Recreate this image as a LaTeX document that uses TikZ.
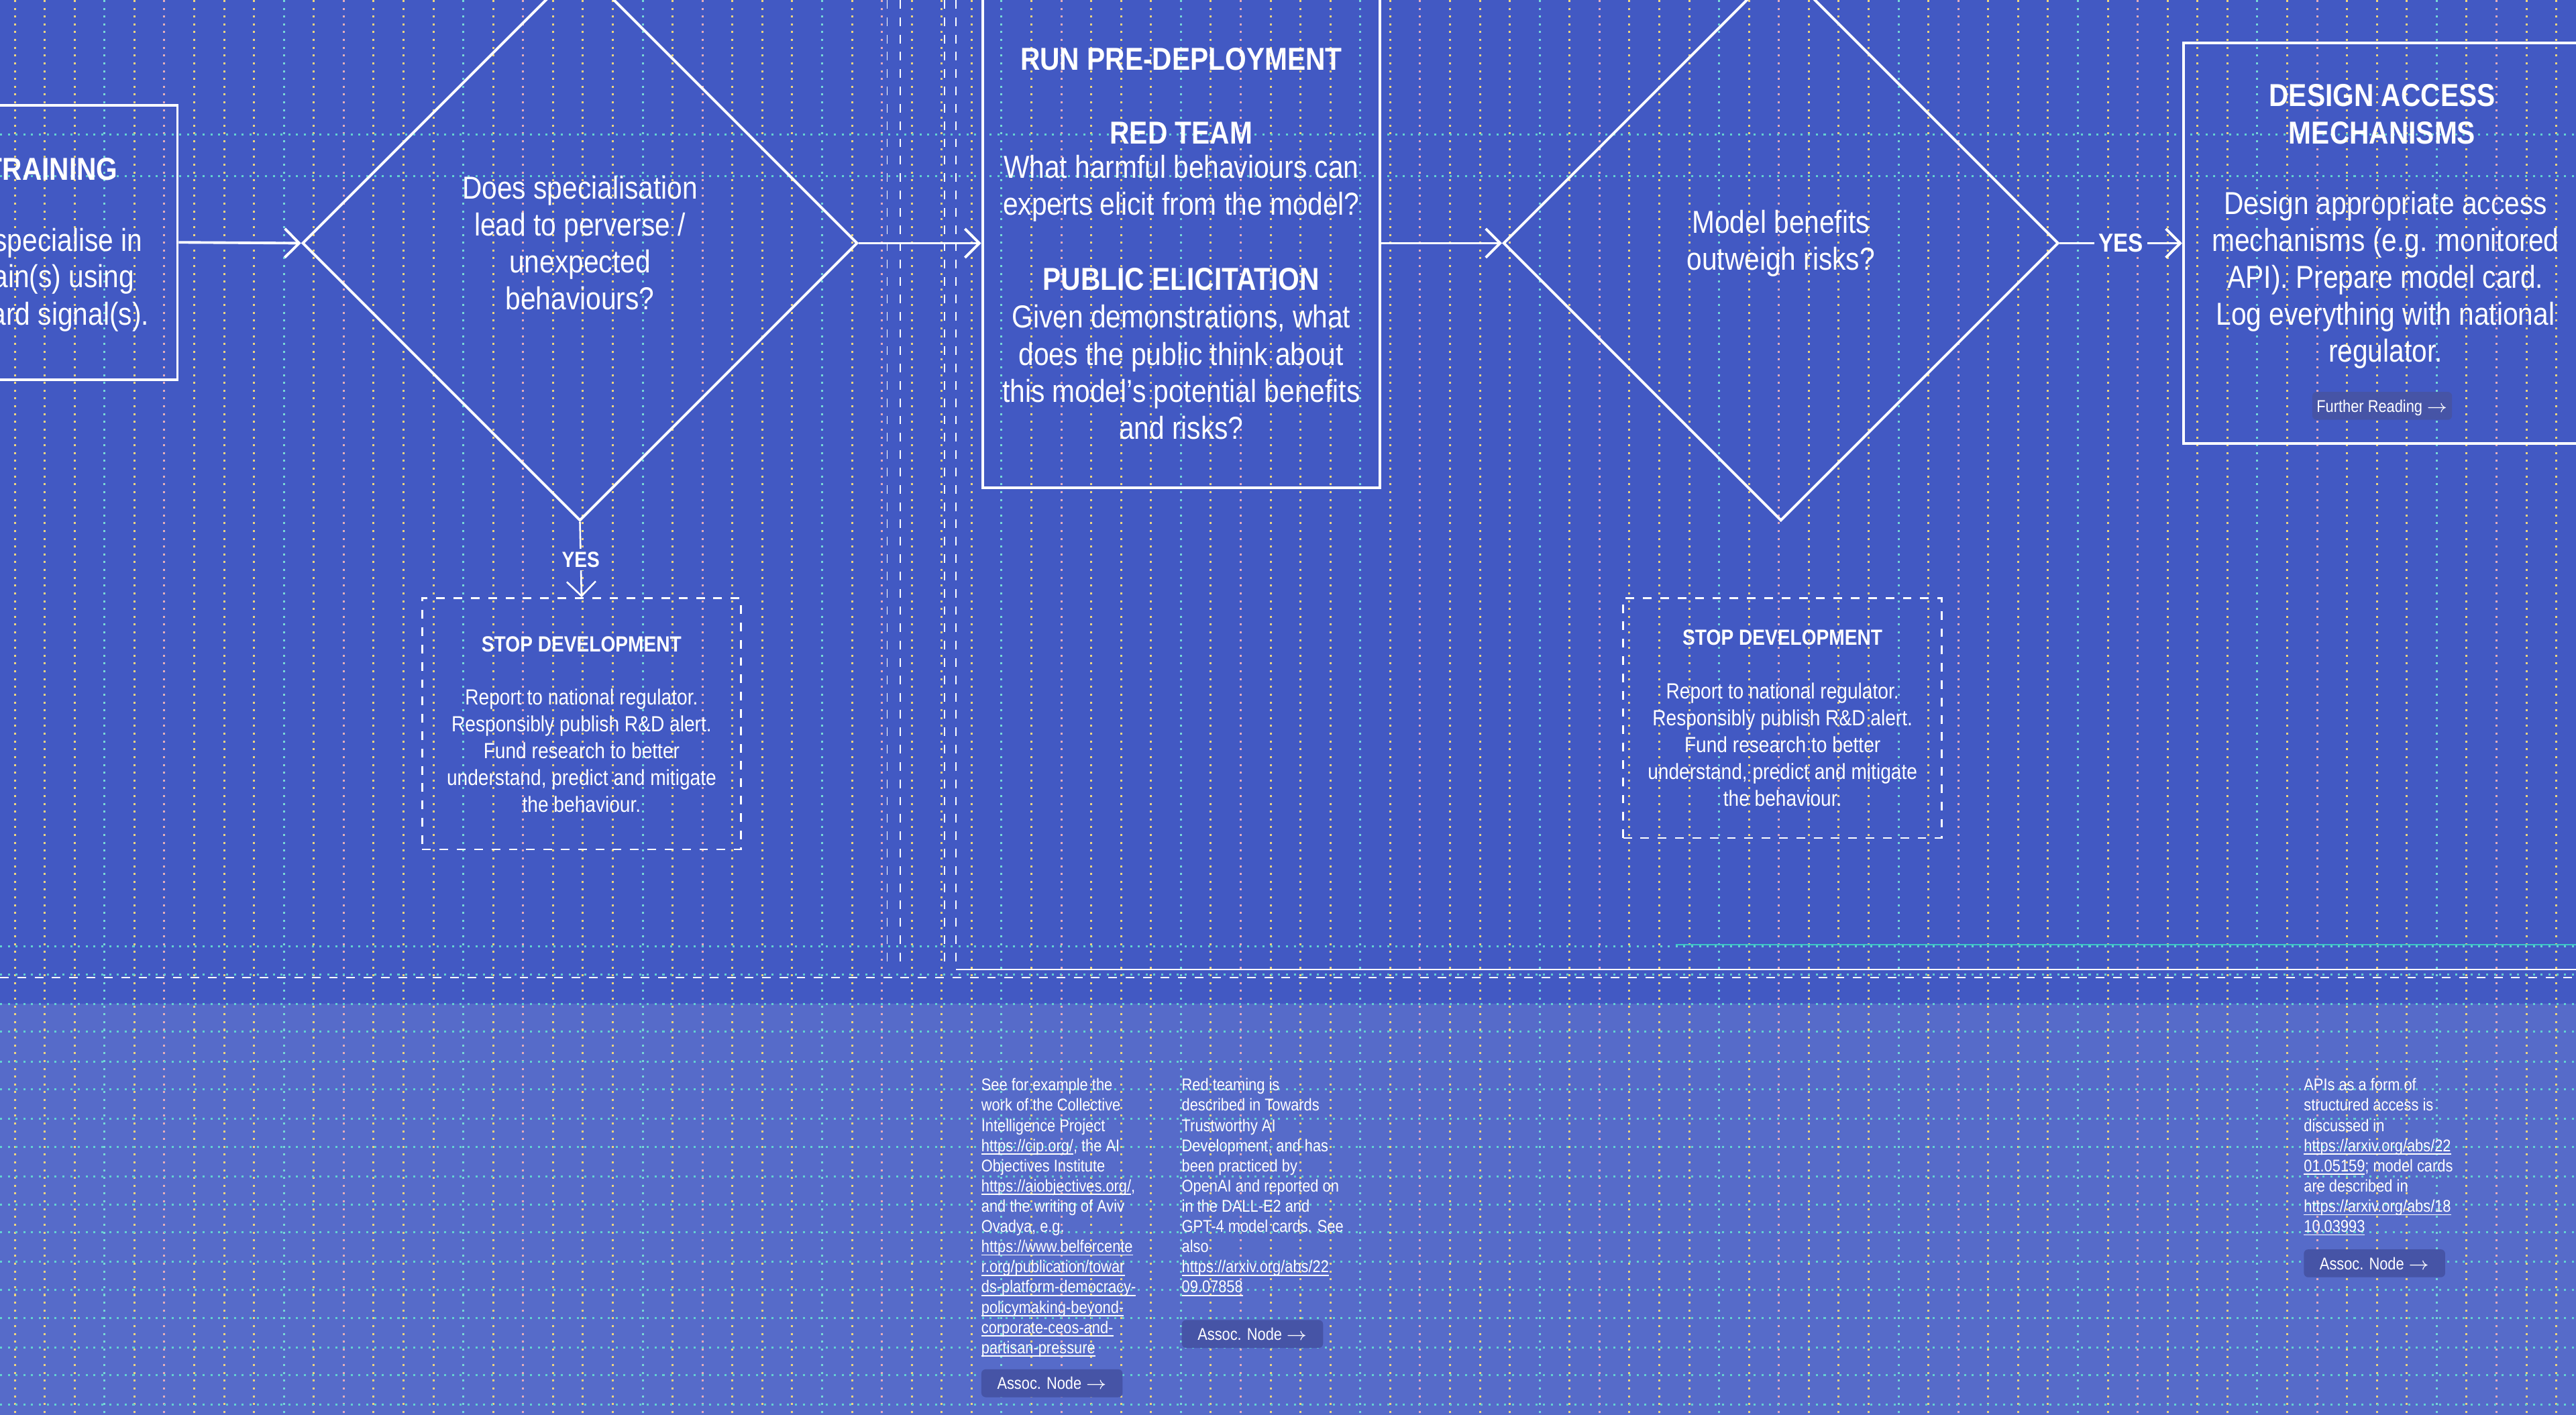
\documentclass[tikz,border=0pt]{standalone}
\usepackage{fontspec}
\setmainfont{Liberation Sans}[FakeStretch=0.86]
\usetikzlibrary{positioning,shapes.geometric,arrows.meta}
\definecolor{bgblue}{HTML}{4259C3}
\definecolor{bandblue}{HTML}{566BC9}
\definecolor{gridyellow}{HTML}{E5C24A}
\definecolor{gridteal}{HTML}{3CC6C6}
\definecolor{gridpink}{HTML}{D98C9C}
\definecolor{btnblue}{HTML}{4654A6}
\newcommand\ulink[1]{\setbox0\hbox{#1}\rlap{\vrule width\wd0 height -0.7pt depth 1.1pt}\box0}
\tikzset{
  flowbox/.style={draw=white, line width=0.9pt, rectangle, inner sep=0pt},
  stopbox/.style={draw=white, line width=0.6pt, dashed, rectangle, inner sep=0pt},
  decision/.style={draw=white, line width=0.9pt, diamond, shape aspect=1, inner sep=0pt,
    minimum width=6.76cm, minimum height=6.76cm},
  flowarrow/.style={draw=white, line width=0.9pt, -{Straight Barb[length=5pt,width=10pt]}},
  bodytext/.style={text=white, align=center, font=\fontsize{11}{12.8}\selectfont, inner sep=0pt},
  titletext/.style={bodytext, font=\fontsize{11}{12.8}\selectfont\bfseries},
  stoptext/.style={text=white, align=center, font=\fontsize{7.6}{9.3}\selectfont, inner sep=0pt},
  notetext/.style={text=white, align=left, anchor=north west, font=\fontsize{5.9}{7}\selectfont, inner sep=0pt},
  assocbtn/.style={fill=btnblue, rounded corners=1.5pt, text=white, anchor=north west,
    font=\fontsize{5.9}{7}\selectfont, minimum width=1.72cm, minimum height=0.34cm, inner sep=1.5pt, text depth=0pt},
  gridline/.style={dotted, line width=0.7pt}
}
\begin{document}
\begin{tikzpicture}[x=0.02cm, y=-0.02cm]
  \useasboundingbox (0,0) rectangle (1568,861);
  \clip (0,0) rectangle (1568,861);
  % background and lower band
  \fill[bgblue] (0,0) rectangle (1568,861);
  \fill[bandblue] (0,611) rectangle (1568,861);

  % dotted guide grid
  \foreach \i in {0,...,86} {
    \pgfmathsetmacro{\gx}{9+18.2*\i}
    \pgfmathtruncatemacro{\gk}{mod(\i,6)}
    \ifnum\gk=3 \def\gc{gridteal}\else\ifnum\gk=5 \def\gc{gridpink}\else\def\gc{gridyellow}\fi\fi
    \draw[gridline, \gc!70] (\gx,0) -- (\gx,861);
  }
  \foreach \gy in {82,107,576,593,611,628,646,663,681,698,716,733,750,768,785,802,820,837,855}
    \draw[gridline, gridteal!80] (0,\gy) -- (1568,\gy);

  % section separators
  \draw[white, line width=0.5pt, dashed] (0,595) -- (1568,595);
  \draw[white!80, line width=0.4pt] (582,590) -- (1568,590);
  \draw[gridteal, line width=0.6pt] (1020,575) -- (1568,575);
  \foreach \sx in {540,548,575,582}
    \draw[white!85, line width=0.4pt, dashed] (\sx,0) -- (\sx,590);

  % flow
  \node[flowbox, minimum width=4.16cm, minimum height=3.34cm] (train) at (4,147.5) {};
  \node[titletext, anchor=east] (trainT) at (72,103) {TRAINING};
  \node[bodytext, anchor=east] (trainA) at (87,148) {specialise in};
  \node[bodytext, anchor=east] (trainB) at (82,170) {ain(s) using};
  \node[bodytext, anchor=east] (trainC) at (91,193) {ard signal(s).};

  \node[decision] (perverse) at (353,148) {};
  \node[bodytext] (perverseT) at (353,148) {Does specialisation\\lead to perverse /\\unexpected\\behaviours?};

  \node[flowbox, minimum width=4.84cm, minimum height=5.96cm] (redteam) at (719,148) {};
  \node[titletext] (redteamT) at (719,36) {RUN PRE-DEPLOYMENT};
  \node[titletext] (redteamR) at (719,81) {RED TEAM};
  \node[bodytext] (redteamA) at (719,114.5) {What harmful behaviours can\\experts elicit from the model?};
  \node[titletext] (redteamP) at (719,170) {PUBLIC ELICITATION};
  \node[bodytext] (redteamB) at (719,226.5) {Given demonstrations, what\\does the public think about\\this model's potential benefits\\and risks?};

  \node[decision] (benefits) at (1084,148) {};
  \node[bodytext] (benefitsT) at (1084,148) {Model benefits\\outweigh risks?};

  \node[flowbox, minimum width=5.02cm, minimum height=4.88cm] (access) at (1454.5,148) {};
  \node[titletext] (accessT) at (1450,69.5) {DESIGN ACCESS\\MECHANISMS};
  \node[bodytext] (accessB) at (1452,170.5) {Design appropriate access\\mechanisms (e.g. monitored\\API). Prepare model card.\\Log everything with national\\regulator.};
  \node[assocbtn, anchor=center, minimum width=1.68cm] (accessF) at (1450,247) {Further Reading $\rightarrow$};

  \draw[flowarrow] (train.east) -- (perverse.west);
  \draw[flowarrow] (perverse.east) -- (redteam.west);
  \draw[flowarrow] (redteam.east) -- (benefits.west);
  \draw[flowarrow] (benefits.east) -- node[fill=bgblue, text=white, font=\fontsize{9}{10}\selectfont\bfseries, inner sep=1.5pt] {YES} (access.west);

  % stop boxes
  \node[stopbox, minimum width=3.88cm, minimum height=3.06cm] (stopA) at (354,440.5) {};
  \node[stoptext, font=\fontsize{7.6}{9.3}\selectfont\bfseries] (stopAT) at (354,392) {STOP DEVELOPMENT};
  \node[stoptext] (stopAB) at (354,457) {Report to national regulator.\\Responsibly publish R\&D alert.\\Fund research to better\\understand, predict and mitigate\\the behaviour.};
  \draw[flowarrow, line width=0.6pt] (perverse.south) -- node[fill=bgblue, text=white, font=\fontsize{7.6}{9}\selectfont\bfseries, inner sep=1pt] {YES} (stopA.north);

  \node[stopbox, minimum width=3.88cm, minimum height=2.92cm] (stopB) at (1085,437) {};
  \node[stoptext, font=\fontsize{7.6}{9.3}\selectfont\bfseries] (stopBT) at (1085,388) {STOP DEVELOPMENT};
  \node[stoptext] (stopBB) at (1085,453) {Report to national regulator.\\Responsibly publish R\&D alert.\\Fund research to better\\understand, predict and mitigate\\the behaviour.};

  % notes
  \node[notetext] (noteA) at (597,656) {See for example the\\work of the Collective\\Intelligence Project\\\ulink{https://cip.org/}, the AI\\Objectives Institute\\\ulink{https://aiobjectives.org/},\\and the writing of Aviv\\Ovadya, e.g.\\\ulink{https://www.belfercente}\\\ulink{r.org/publication/towar}\\\ulink{ds-platform-democracy-}\\\ulink{policymaking-beyond-}\\\ulink{corporate-ceos-and-}\\\ulink{partisan-pressure}};
  \node[assocbtn] (noteAbtn) at (597,833) {Assoc. Node $\rightarrow$};

  \node[notetext] (noteB) at (719,656) {Red teaming is\\described in Towards\\Trustworthy AI\\Development, and has\\been practiced by\\OpenAI and reported on\\in the DALL-E2 and\\GPT-4 model cards. See\\also\\\ulink{https://arxiv.org/abs/22}\\\ulink{09.07858}};
  \node[assocbtn] (noteBbtn) at (719,803) {Assoc. Node $\rightarrow$};

  \node[notetext] (noteC) at (1402,656) {APIs as a form of\\structured access is\\discussed in\\\ulink{https://arxiv.org/abs/22}\\\ulink{01.05159}; model cards\\are described in\\\ulink{https://arxiv.org/abs/18}\\\ulink{10.03993}};
  \node[assocbtn] (noteCbtn) at (1402,760) {Assoc. Node $\rightarrow$};
\end{tikzpicture}
\end{document}
